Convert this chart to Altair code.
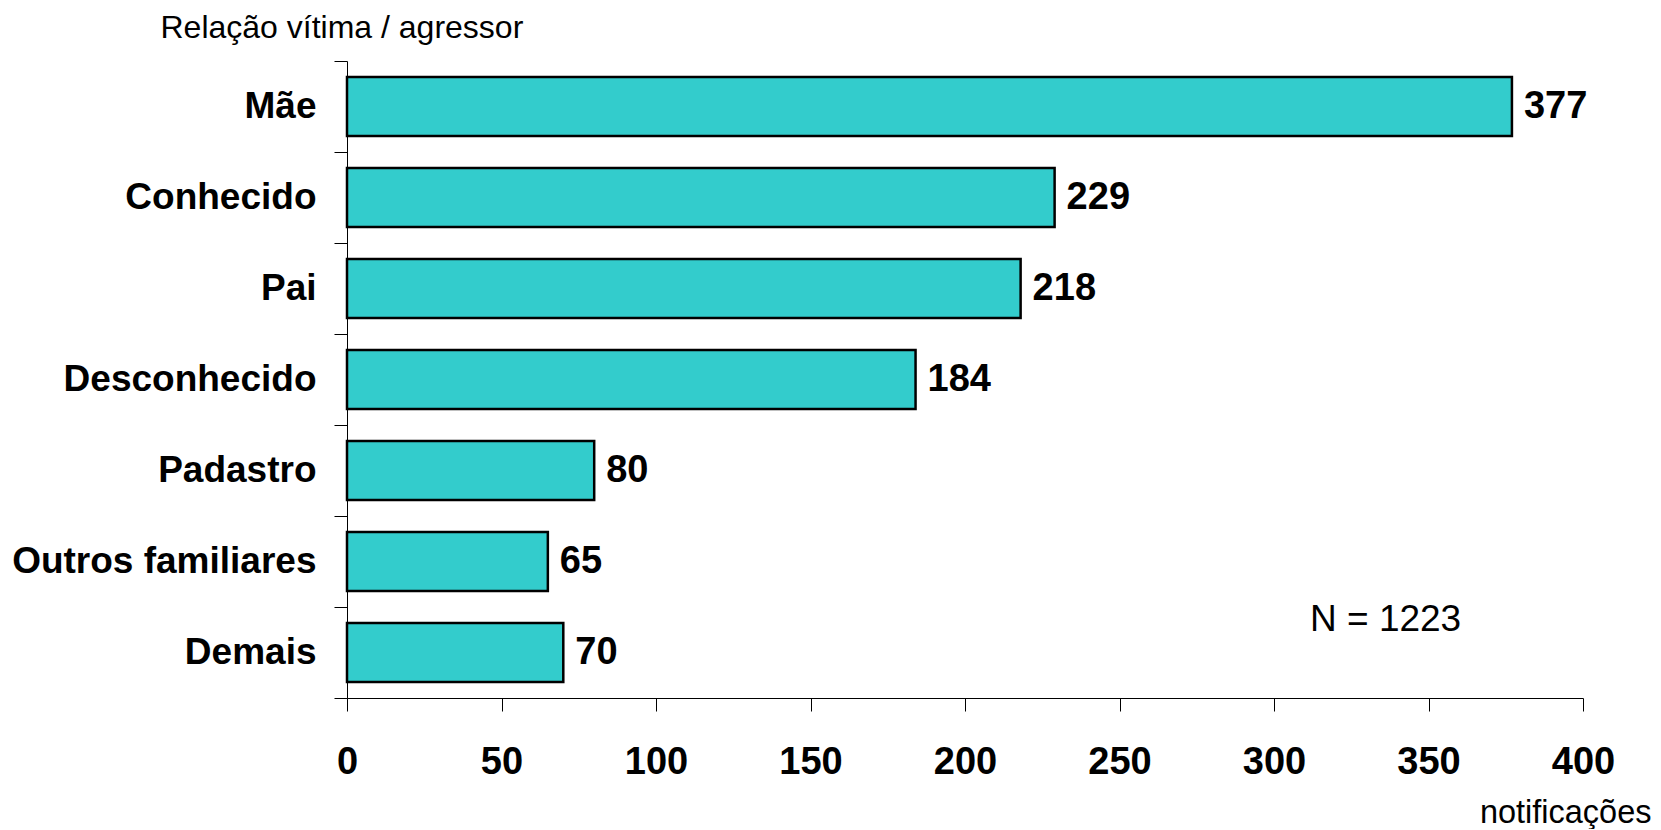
import altair as alt
import pandas as pd

categories = ["Mãe", "Conhecido", "Pai", "Desconhecido", "Padastro", "Outros familiares", "Demais"]
values = [377, 229, 218, 184, 80, 65, 70]
x_ticks = [0, 50, 100, 150, 200, 250, 300, 350, 400]
n_label = ["N = 1223"]

df = pd.DataFrame({"rel": categories, "n": values})

W, H = 1236, 637
FONT = "Liberation Sans"

y_enc = alt.Y(
    "rel:N",
    sort=categories,
    scale=alt.Scale(paddingInner=0, paddingOuter=0),
    axis=alt.Axis(
        title="Relação vítima / agressor",
        titleAngle=0, titleAlign="left", titleBaseline="middle",
        titleX=-187, titleY=-34, titleFontSize=32, titleFontWeight="normal",
        titleFont=FONT, titleColor="black",
        labelFont=FONT, labelFontSize=37, labelFontWeight="bold", labelColor="black",
        labelPadding=18, labelLimit=0, tickSize=13, tickColor="black", domainColor="black",
        tickBand="extent", grid=False,
    ),
)

x_enc = alt.X(
    "n:Q",
    scale=alt.Scale(domain=[0, 400], nice=False),
    axis=alt.Axis(
        values=x_ticks, title="notificações",
        titleX=1304, titleY=124, titleAlign="right", titleBaseline="alphabetic",
        titleFontSize=32.5, titleFontWeight="normal", titleFont=FONT, titleColor="black",
        labelFont=FONT, labelFontSize=38, labelFontWeight="bold", labelColor="black",
        labelPadding=32, labelFlush=False, tickSize=13, tickColor="black", domainColor="black",
        grid=False,
    ),
)

base = alt.Chart(df)
bars = base.mark_bar(
    color="#33CCCC", stroke="black", strokeWidth=2.5, height={"band": 0.65}
).encode(x=x_enc, y=y_enc)
labels = base.mark_text(
    align="left", baseline="middle", dx=12, fontSize=38, fontWeight="bold",
    font=FONT, color="black",
).encode(x="n:Q", y=alt.Y("rel:N", sort=categories), text="n:Q")

note = alt.Chart(pd.DataFrame({"t": n_label})).mark_text(
    align="left", baseline="middle", fontSize=37, font=FONT, color="black"
).encode(x=alt.value(963), y=alt.value(559), text="t:N")

chart = (bars + labels + note).properties(
    width=W, height=H,
    padding={"left": 3, "right": 0, "top": 3, "bottom": 0},
).configure_view(stroke=None)

chart.save("out.html", embed_options={"renderer": "svg", "actions": False})
